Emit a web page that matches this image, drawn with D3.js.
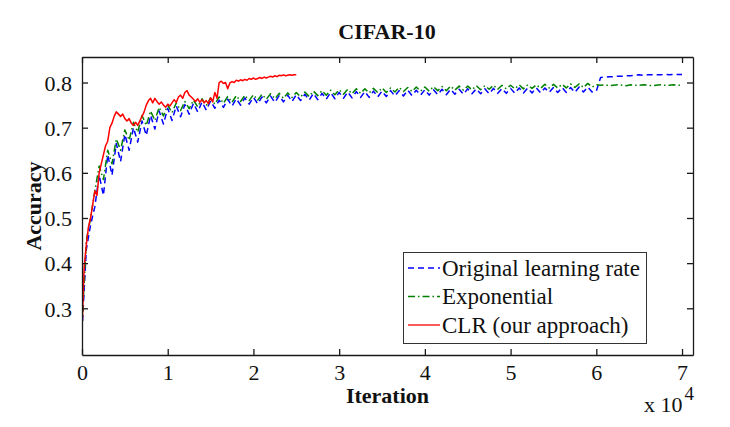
<!DOCTYPE html>
<html><head><meta charset="utf-8">
<script src="https://cdn.jsdelivr.net/npm/d3@7"></script>
<style>html,body{margin:0;padding:0;background:#fff;}svg{display:block;}</style>
</head><body>
<script>
// ---- data ----
const title = "CIFAR-10";
const xLabel = "Iteration";
const yLabel = "Accuracy";
const xTicks = [0, 10000, 20000, 30000, 40000, 50000, 60000, 70000];
const yTicks = [0.3, 0.4, 0.5, 0.6, 0.7, 0.8];
const seriesNames = ["Original learning rate", "Exponential", "CLR (our approach)"];

const stepBG = 500; // iterations between samples (blue, green)
const originalLR = [
0.25,0.43,0.485,0.525,0.595,0.55,0.64,0.595,0.665,0.625,
0.685,0.65,0.70,0.668,0.715,0.683,0.727,0.697,0.737,0.708,
0.743,0.716,0.748,0.724,0.751,0.73,0.754,0.735,0.757,0.739,
0.759,0.743,0.761,0.745,0.763,0.748,0.764,0.75,0.766,0.752,
0.767,0.753,0.768,0.755,0.77,0.756,0.771,0.757,0.772,0.758,
0.773,0.76,0.774,0.761,0.776,0.762,0.776,0.763,0.778,0.764,
0.778,0.765,0.779,0.766,0.78,0.767,0.78,0.767,0.781,0.768,
0.781,0.769,0.782,0.77,0.782,0.77,0.783,0.771,0.783,0.772,
0.784,0.772,0.784,0.773,0.785,0.773,0.785,0.774,0.785,0.774,
0.786,0.775,0.786,0.775,0.786,0.775,0.787,0.776,0.787,0.776,
0.787,0.776,0.788,0.777,0.788,0.777,0.788,0.777,0.788,0.778,
0.789,0.778,0.789,0.778,0.789,0.778,0.79,0.779,0.79,0.779,
0.781,0.811,0.812,0.813,0.813,0.814,0.814,0.815,0.815,0.816,
0.817,0.816,0.817,0.817,0.817,0.817,0.818,0.817,0.818,0.818,
0.818];
const exponential = [
0.26,0.45,0.50,0.56,0.615,0.585,0.65,0.62,0.675,0.65,
0.695,0.672,0.712,0.69,0.727,0.705,0.737,0.716,0.745,0.726,
0.75,0.733,0.755,0.738,0.758,0.742,0.761,0.746,0.764,0.749,
0.766,0.752,0.768,0.754,0.769,0.756,0.771,0.758,0.772,0.76,
0.773,0.761,0.774,0.763,0.775,0.764,0.776,0.765,0.777,0.767,
0.778,0.768,0.779,0.769,0.781,0.771,0.782,0.772,0.783,0.773,
0.784,0.774,0.785,0.775,0.786,0.776,0.786,0.777,0.787,0.778,
0.788,0.778,0.788,0.779,0.789,0.78,0.789,0.78,0.79,0.781,
0.79,0.781,0.791,0.782,0.791,0.782,0.792,0.783,0.792,0.783,
0.792,0.784,0.793,0.784,0.793,0.785,0.794,0.785,0.794,0.786,
0.794,0.786,0.795,0.786,0.795,0.787,0.795,0.787,0.796,0.788,
0.796,0.788,0.796,0.788,0.797,0.789,0.797,0.789,0.798,0.79,
0.795,0.794,0.795,0.793,0.794,0.795,0.794,0.793,0.795,0.794,
0.794,0.795,0.794,0.793,0.794,0.795,0.794,0.794,0.795,0.794,
0.794];

const stepCLR = 250;
const clr = [
0.25,0.39,0.44,0.48,0.50,0.53,0.56,0.55,0.60,0.62,
0.64,0.66,0.67,0.70,0.71,0.725,0.735,0.73,0.725,0.73,
0.72,0.715,0.72,0.71,0.705,0.712,0.705,0.715,0.725,0.735,
0.75,0.76,0.765,0.755,0.765,0.758,0.752,0.757,0.75,0.745,
0.752,0.748,0.755,0.762,0.756,0.768,0.772,0.765,0.778,0.782,
0.772,0.768,0.763,0.758,0.764,0.756,0.762,0.755,0.76,0.753,
0.766,0.757,0.778,0.765,0.80,0.803,0.798,0.80,0.786,0.799,
0.802,0.80,0.805,0.803,0.806,0.804,0.807,0.805,0.809,0.807,
0.81,0.807,0.809,0.811,0.809,0.812,0.81,0.812,0.814,0.812,
0.815,0.813,0.816,0.815,0.817,0.815,0.816,0.817,0.816,0.817,
0.817];

// ---- layout ----
const W = 730, H = 427;
const FONT = "'Liberation Serif','Times New Roman',serif";
const plot = {left: 82, right: 693, top: 57, bottom: 355};
const svg = d3.select("body").append("svg").attr("width", W).attr("height", H)
  .style("font-family", FONT);
svg.append("rect").attr("width", W).attr("height", H).attr("fill", "#fff");

const x = d3.scaleLinear().domain([0, 71280]).range([plot.left, plot.right]);
const y = d3.scaleLinear().domain([0.1966, 0.8565]).range([plot.bottom, plot.top]);

svg.append("clipPath").attr("id", "clip").append("rect")
  .attr("x", plot.left).attr("y", plot.top)
  .attr("width", plot.right - plot.left).attr("height", plot.bottom - plot.top);

const line = d3.line().x(d => x(d[0])).y(d => y(d[1]));
const toPts = (arr, step) => arr.map((v, i) => [i * step, v]);

const series = [
  {name: seriesNames[0], pts: toPts(originalLR, stepBG), color: "#0000ff", dash: "6,4", w: 1.5},
  {name: seriesNames[1], pts: toPts(exponential, stepBG), color: "#008000", dash: "7,3,1.5,3", w: 1.5},
  {name: seriesNames[2], pts: toPts(clr, stepCLR), color: "#ff0000", dash: null, w: 1.5}
];

const g = svg.append("g").attr("clip-path", "url(#clip)");
series.forEach(s => {
  g.append("path").datum(s.pts).attr("d", line)
    .attr("fill", "none").attr("stroke", s.color).attr("stroke-width", s.w)
    .attr("stroke-dasharray", s.dash).attr("stroke-linejoin", "round");
});

// ---- axes ----
const axColor = "#1a1a1a";
const fmtX = d => d3.format("d")(d / 10000);
const fmtY = d3.format(".1f");
const axB = svg.append("g").attr("transform", `translate(0,${plot.bottom})`)
  .call(d3.axisBottom(x).tickValues(xTicks).tickFormat(fmtX).tickSizeInner(-6).tickSizeOuter(0).tickPadding(9));
const axT = svg.append("g").attr("transform", `translate(0,${plot.top})`)
  .call(d3.axisTop(x).tickValues(xTicks).tickFormat("").tickSizeInner(-6).tickSizeOuter(0));
const axL = svg.append("g").attr("transform", `translate(${plot.left},0)`)
  .call(d3.axisLeft(y).tickValues(yTicks).tickFormat(fmtY).tickSizeInner(-6).tickSizeOuter(0).tickPadding(10));
const axR = svg.append("g").attr("transform", `translate(${plot.right},0)`)
  .call(d3.axisRight(y).tickValues(yTicks).tickFormat("").tickSizeInner(-6).tickSizeOuter(0));
[axB, axT, axL, axR].forEach(a => {
  a.selectAll(".domain").attr("stroke", axColor).attr("stroke-width", 1.3);
  a.selectAll(".tick line").attr("stroke", axColor).attr("stroke-width", 1.3);
  a.selectAll("text").attr("fill", "#111").style("font-size", "22px").style("font-family", FONT);
});
axL.selectAll("text").attr("dy", "0.35em");

// title & labels
svg.append("text").attr("x", 387).attr("y", 39).attr("text-anchor", "middle")
  .style("font-size", "22px").style("font-weight", "bold").attr("fill", "#111").text(title);
svg.append("text").attr("x", 387.5).attr("y", 403).attr("text-anchor", "middle")
  .style("font-size", "22px").style("font-weight", "bold").attr("fill", "#111").text(xLabel);
svg.append("text").attr("transform", "translate(41,206) rotate(-90)").attr("text-anchor", "middle")
  .style("font-size", "22px").style("font-weight", "bold").attr("fill", "#111").text(yLabel);
const ex = svg.append("text").attr("x", 644).attr("y", 412).style("font-size", "22px").attr("fill", "#111");
ex.append("tspan").text("x 10");
ex.append("tspan").attr("dy", -12).attr("dx", 2).style("font-size", "19px").text("4");

// legend
const leg = svg.append("g");
leg.append("rect").attr("x", 403.5).attr("y", 252.5).attr("width", 243).attr("height", 91)
  .attr("fill", "#fff").attr("stroke", "#333").attr("stroke-width", 1);
const rowY = [268, 296.5, 325];
series.forEach((s, i) => {
  leg.append("line").attr("x1", 408).attr("x2", 440).attr("y1", rowY[i]).attr("y2", rowY[i])
    .attr("stroke", s.color).attr("stroke-width", 1.3).attr("stroke-dasharray", s.dash);
  leg.append("text").attr("x", 442).attr("y", rowY[i]).attr("dy", "0.33em")
    .style("font-size", "23px").attr("fill", "#111").text(s.name);
});
</script>
</body></html>
